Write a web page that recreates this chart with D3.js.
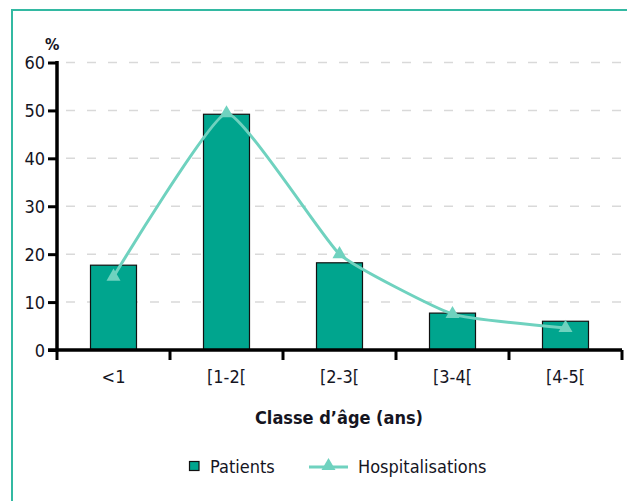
<!doctype html>
<html>
<head>
  <meta charset='utf-8'>
  <style>
    body { margin: 0; background: #fff; }
    svg text {
      font-family: 'DejaVu Sans Condensed', 'DejaVu Sans', sans-serif;
      font-stretch: condensed;
      fill: #15151f;
    }
    .grid line { stroke: #d9d9d9; stroke-width: 1.5; stroke-dasharray: 9,12; }
  </style>
</head>
<body>
  <svg width='627' height='501'></svg>
  <script src='https://d3js.org/d3.v7.min.js'></script>
  <script>
    var categories = ['<1', '[1-2[', '[2-3[', '[3-4[', '[4-5['];
    var patients = [17.7, 49.2, 18.2, 7.7, 6.0];
    var hospitalisations = [15.3, 49.4, 20.0, 7.5, 4.6];
    var yTicks = [0, 10, 20, 30, 40, 50, 60];

    var svg = d3.select('svg');
    var teal = '#00a58e';
    var light = '#6fd2bf';

    // cadre
    svg.append('path')
       .attr('d', 'M12,501 V10 H627')
       .attr('fill', 'none')
       .attr('stroke', '#33b9a2')
       .attr('stroke-width', 2);

    var x = d3.scaleBand().domain(categories).range([57, 622]).paddingInner(0).paddingOuter(0);
    var y = d3.scaleLinear().domain([0, 60]).range([350, 62.5]);

    // grille
    svg.append('g').attr('class', 'grid')
       .selectAll('line')
       .data(yTicks.filter(function(d) { return d > 0; }))
       .enter().append('line')
       .attr('x1', 66).attr('x2', 627)
       .attr('y1', function(d) { return y(d); })
       .attr('y2', function(d) { return y(d); });

    // barres
    var bw = 46;
    svg.append('g').selectAll('rect')
       .data(patients)
       .enter().append('rect')
       .attr('x', function(d, i) { return x(categories[i]) + x.bandwidth() / 2 - bw / 2; })
       .attr('y', function(d) { return y(d); })
       .attr('width', bw)
       .attr('height', function(d) { return y(0) - y(d); })
       .attr('fill', teal)
       .attr('stroke', '#111')
       .attr('stroke-width', 1.2);

    // courbe
    var line = d3.line()
       .x(function(d, i) { return x(categories[i]) + x.bandwidth() / 2; })
       .y(function(d) { return y(d); })
       .curve(d3.curveCardinal.tension(0.6));

    svg.append('path')
       .datum(hospitalisations)
       .attr('d', line)
       .attr('fill', 'none')
       .attr('stroke', light)
       .attr('stroke-width', 3);

    var tri = d3.symbol().type(d3.symbolTriangle).size(85);
    svg.append('g').selectAll('path')
       .data(hospitalisations)
       .enter().append('path')
       .attr('d', tri)
       .attr('transform', function(d, i) {
         return 'translate(' + (x(categories[i]) + x.bandwidth() / 2) + ',' + y(d) + ')';
       })
       .attr('fill', light);

    // axe y
    var yAxis = svg.append('g')
       .attr('transform', 'translate(57,0)')
       .call(d3.axisLeft(y).tickValues(yTicks).tickSize(9).tickPadding(3));
    yAxis.select('.domain').attr('stroke', '#000').attr('stroke-width', 3.5)
         .attr('d', 'M0,' + (y(60) - 1.5) + 'V' + (y(0) + 1.5));
    yAxis.selectAll('.tick line').attr('stroke', '#000').attr('stroke-width', 3);
    yAxis.selectAll('.tick text').attr('font-size', 18).attr('dy', '0.36em');

    svg.append('text')
       .attr('x', 45).attr('y', 50)
       .attr('font-size', 16).attr('font-weight', 'bold')
       .text('%');

    // axe x
    var xAxis = svg.append('g')
       .attr('transform', 'translate(0,350)')
       .call(d3.axisBottom(x).tickSize(0).tickPadding(20));
    xAxis.select('.domain').remove();
    xAxis.selectAll('.tick text').attr('font-size', 18);

    svg.append('line')
       .attr('x1', 48).attr('x2', 622)
       .attr('y1', 350).attr('y2', 350)
       .attr('stroke', '#000').attr('stroke-width', 3.5);

    var bounds = categories.map(function(c) { return x(c); }).concat([x.range()[1]]);
    svg.append('g').selectAll('line')
       .data(bounds)
       .enter().append('line')
       .attr('x1', function(d) { return d; })
       .attr('x2', function(d) { return d; })
       .attr('y1', 350).attr('y2', 360)
       .attr('stroke', '#000').attr('stroke-width', 3);

    svg.append('text')
       .attr('x', 339).attr('y', 424)
       .attr('text-anchor', 'middle')
       .attr('font-size', 18).attr('font-weight', 'bold')
       .text('Classe d\u2019\u00e2ge (ans)');

    // légende
    var lg = svg.append('g');
    lg.append('rect')
      .attr('x', 189.5).attr('y', 461.5).attr('width', 9.5).attr('height', 9)
      .attr('fill', teal).attr('stroke', '#111').attr('stroke-width', 1.2);
    lg.append('text').attr('x', 210).attr('y', 473).attr('font-size', 18).text('Patients');
    lg.append('line')
      .attr('x1', 309).attr('x2', 348).attr('y1', 467).attr('y2', 467)
      .attr('stroke', light).attr('stroke-width', 3);
    lg.append('path').attr('d', tri).attr('transform', 'translate(328.5,466)').attr('fill', light);
    lg.append('text').attr('x', 358).attr('y', 473).attr('font-size', 18).text('Hospitalisations');
  </script>
</body>
</html>
